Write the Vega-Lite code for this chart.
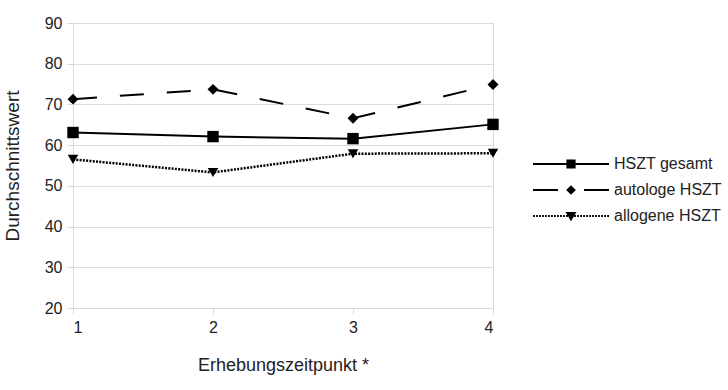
{
  "$schema": "https://vega.github.io/schema/vega-lite/v6.json",
  "width": 420,
  "height": 285,
  "autosize": {"type": "none"},
  "padding": {"left": 73, "top": 23, "right": 235, "bottom": 82},
  "background": "white",
  "config": {
    "font": "Liberation Sans",
    "view": {"stroke": "#d9d9d9", "strokeWidth": 1},
    "axis": {
      "labelFont": "Liberation Sans",
      "titleFont": "Liberation Sans",
      "labelColor": "#222222",
      "titleColor": "#222222",
      "titleFontWeight": "normal",
      "domainColor": "#d9d9d9",
      "tickColor": "#d9d9d9",
      "gridColor": "#dcdcdc",
      "labelFontSize": 16
    },
    "legend": {"labelFont": "Liberation Sans"}
  },
  "data": {
    "values": [
      {"t": 1, "series": "HSZT gesamt", "value": 63.1},
      {"t": 2, "series": "HSZT gesamt", "value": 62.1},
      {"t": 3, "series": "HSZT gesamt", "value": 61.6},
      {"t": 4, "series": "HSZT gesamt", "value": 65.1},
      {"t": 1, "series": "autologe HSZT", "value": 71.3},
      {"t": 2, "series": "autologe HSZT", "value": 73.7},
      {"t": 3, "series": "autologe HSZT", "value": 66.6},
      {"t": 4, "series": "autologe HSZT", "value": 74.9},
      {"t": 1, "series": "allogene HSZT", "value": 56.5},
      {"t": 2, "series": "allogene HSZT", "value": 53.3},
      {"t": 3, "series": "allogene HSZT", "value": 57.9},
      {"t": 4, "series": "allogene HSZT", "value": 58.0}
    ]
  },
  "encoding": {
    "x": {
      "field": "t",
      "type": "quantitative",
      "scale": {"domain": [1, 4], "nice": false, "zero": false},
      "axis": {
        "values": [1, 2, 3, 4],
        "format": "d",
        "grid": false,
        "tickSize": 6,
        "labelPadding": 5,
        "title": "Erhebungszeitpunkt *",
        "titleFontSize": 18,
        "titlePadding": 21
      }
    },
    "y": {
      "field": "value",
      "type": "quantitative",
      "scale": {"domain": [20, 90], "nice": false, "zero": false},
      "axis": {
        "values": [20, 30, 40, 50, 60, 70, 80, 90],
        "grid": true,
        "tickSize": 6,
        "labelPadding": 5,
        "title": "Durchschnittswert",
        "titleFontSize": 19,
        "titlePadding": 22
      }
    }
  },
  "layer": [
    {
      "transform": [{"filter": "datum.series === 'HSZT gesamt'"}],
      "mark": {"type": "line", "color": "black", "strokeWidth": 2}
    },
    {
      "transform": [{"filter": "datum.series === 'autologe HSZT'"}],
      "mark": {"type": "line", "color": "black", "strokeWidth": 2, "strokeDash": [24, 23]}
    },
    {
      "transform": [{"filter": "datum.series === 'allogene HSZT'"}],
      "mark": {"type": "line", "color": "black", "strokeWidth": 2.5, "strokeDash": [2, 1.3]}
    },
    {
      "mark": {"type": "point", "filled": true, "color": "black", "opacity": 1},
      "encoding": {
        "shape": {
          "field": "series",
          "type": "nominal",
          "scale": {"domain": ["HSZT gesamt", "autologe HSZT", "allogene HSZT"], "range": ["square", "diamond", "triangle-down"]},
          "legend": null
        },
        "size": {
          "field": "series",
          "type": "nominal",
          "scale": {"domain": ["HSZT gesamt", "autologe HSZT", "allogene HSZT"], "range": [130, 110, 120]},
          "legend": null
        }
      }
    },
    {
      "mark": {"type": "point", "filled": false, "color": "black", "strokeWidth": 2, "opacity": 0, "size": 100},
      "encoding": {
        "shape": {
          "field": "series",
          "type": "nominal",
          "scale": {
            "domain": ["HSZT gesamt", "autologe HSZT", "allogene HSZT"],
            "range": [
              "M-7.6,0H7.6M-0.72,-0.72H0.72V0.72H-0.72ZM-0.72,-0.4H0.72M-0.72,0.4H0.72",
              "M-7.6,0H-2.6M2.6,0H7.6M0,-0.68L0.68,0L0,0.68L-0.68,0ZM-0.68,0H0.68M-0.33,-0.35H0.33M-0.33,0.35H0.33",
              "M-7.6,0h0.36M-7,0h0.36M-6.4,0h0.36M-5.8,0h0.36M-5.2,0h0.36M-4.6,0h0.36M-4,0h0.36M-3.4,0h0.36M-2.8,0h0.36M-2.2,0h0.36M-1.6,0h0.36M-1,0h0.36M0.64,0h0.36M1.24,0h0.36M1.84,0h0.36M2.44,0h0.36M3.04,0h0.36M3.64,0h0.36M4.24,0h0.36M4.84,0h0.36M5.44,0h0.36M6.04,0h0.36M6.64,0h0.36M7.24,0h0.36M-0.75,-0.6L0.75,-0.6L0,0.65ZM-0.6,-0.35H0.6M-0.39,0H0.39M-0.2,0.3H0.2"
            ]
          },
          "legend": {
            "title": null,
            "orient": "none",
            "legendX": 490,
            "legendY": 133,
            "padding": 0,
            "symbolSize": 100,
            "symbolOpacity": 1,
            "symbolStrokeColor": "black",
            "symbolFillColor": "black",
            "symbolStrokeWidth": 2,
            "labelFontSize": 16,
            "labelColor": "#222222",
            "labelOffset": 35,
            "rowPadding": 10
          }
        }
      }
    }
  ],
  "resolve": {"scale": {"shape": "independent", "size": "independent"}, "legend": {"shape": "independent"}}
}
